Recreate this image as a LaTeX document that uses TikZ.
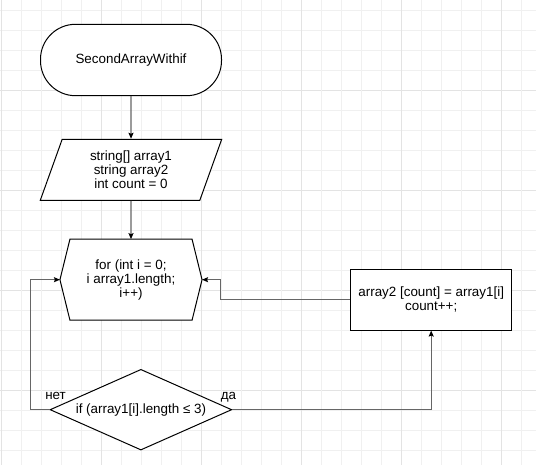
\documentclass[tikz,border=0pt]{standalone}
\usepackage{fontspec}
\setmainfont{Liberation Sans}
\usetikzlibrary{shapes.geometric,arrows.meta}

\tikzset{
  textfont/.style={font=\fontsize{13.4}{14}\selectfont},
  outline/.style={draw=black, line width=1pt, fill=white},
  block/.style={outline, align=center, inner sep=0pt, textfont},
  terminal/.style={block, rectangle, rounded corners=35pt, minimum width=181pt, minimum height=71.4pt},
  inputbox/.style={block, trapezium, trapezium left angle=71, trapezium right angle=109, trapezium stretches=true, minimum width=181.7pt, minimum height=61pt},
  loopbox/.style={align=center, inner sep=0pt, textfont, rectangle, minimum width=141.7pt, minimum height=80.7pt},
  decision/.style={block, diamond, aspect=2.25, minimum width=181.7pt, minimum height=80.7pt},
  process/.style={block, rectangle, minimum width=161pt, minimum height=60.7pt},
  flow/.style={draw=black!60, line width=1.2pt, -{Stealth[length=6pt,width=5pt,inset=1pt,color=black]}},
  edgelabel/.style={textfont, inner sep=0pt, anchor=base},
  gridminor/.style={draw=black!6, line width=1pt},
  gridmajor/.style={draw=black!11, line width=1pt},
}

\begin{document}
\begin{tikzpicture}[x=1pt, y=-1pt]
  \useasboundingbox[fill=white] (0,0) rectangle (536,465);
  % background grid
  \draw[gridminor] (0,10.5) -- (536,10.5);
  \draw[gridminor] (0,30.5) -- (536,30.5);
  \draw[gridminor] (0,50.5) -- (536,50.5);
  \draw[gridminor] (0,70.5) -- (536,70.5);
  \draw[gridmajor] (0,90.5) -- (536,90.5);
  \draw[gridminor] (0,110.5) -- (536,110.5);
  \draw[gridminor] (0,130.5) -- (536,130.5);
  \draw[gridminor] (0,150.5) -- (536,150.5);
  \draw[gridminor] (0,170.5) -- (536,170.5);
  \draw[gridmajor] (0,190.5) -- (536,190.5);
  \draw[gridminor] (0,210.5) -- (536,210.5);
  \draw[gridminor] (0,230.5) -- (536,230.5);
  \draw[gridminor] (0,250.5) -- (536,250.5);
  \draw[gridminor] (0,270.5) -- (536,270.5);
  \draw[gridmajor] (0,290.5) -- (536,290.5);
  \draw[gridminor] (0,310.5) -- (536,310.5);
  \draw[gridminor] (0,330.5) -- (536,330.5);
  \draw[gridminor] (0,350.5) -- (536,350.5);
  \draw[gridminor] (0,370.5) -- (536,370.5);
  \draw[gridmajor] (0,390.5) -- (536,390.5);
  \draw[gridminor] (0,410.5) -- (536,410.5);
  \draw[gridminor] (0,430.5) -- (536,430.5);
  \draw[gridminor] (0,450.5) -- (536,450.5);
  \draw[gridmajor] (1.5,0) -- (1.5,465);
  \draw[gridminor] (21.5,0) -- (21.5,465);
  \draw[gridminor] (41.5,0) -- (41.5,465);
  \draw[gridminor] (61.5,0) -- (61.5,465);
  \draw[gridminor] (81.5,0) -- (81.5,465);
  \draw[gridmajor] (101.5,0) -- (101.5,465);
  \draw[gridminor] (121.5,0) -- (121.5,465);
  \draw[gridminor] (141.5,0) -- (141.5,465);
  \draw[gridminor] (161.5,0) -- (161.5,465);
  \draw[gridminor] (181.5,0) -- (181.5,465);
  \draw[gridmajor] (201.5,0) -- (201.5,465);
  \draw[gridminor] (221.5,0) -- (221.5,465);
  \draw[gridminor] (241.5,0) -- (241.5,465);
  \draw[gridminor] (261.5,0) -- (261.5,465);
  \draw[gridminor] (281.5,0) -- (281.5,465);
  \draw[gridmajor] (301.5,0) -- (301.5,465);
  \draw[gridminor] (321.5,0) -- (321.5,465);
  \draw[gridminor] (341.5,0) -- (341.5,465);
  \draw[gridminor] (361.5,0) -- (361.5,465);
  \draw[gridminor] (381.5,0) -- (381.5,465);
  \draw[gridmajor] (401.5,0) -- (401.5,465);
  \draw[gridminor] (421.5,0) -- (421.5,465);
  \draw[gridminor] (441.5,0) -- (441.5,465);
  \draw[gridminor] (461.5,0) -- (461.5,465);
  \draw[gridminor] (481.5,0) -- (481.5,465);
  \draw[gridmajor] (501.5,0) -- (501.5,465);
  \draw[gridminor] (521.5,0) -- (521.5,465);

  % blocks
  \node[terminal] (start) at (131,60) {SecondArrayWithif};
  \node[inputbox] (vars) at (131,169.8) {string[] array1\\string array2\\int count = 0};
  \node[loopbox] (loop) at (131,279.7) {};
  \draw[outline] ([xshift=10pt]loop.north west) -- ([xshift=-10pt]loop.north east) -- (loop.east)
    -- ([xshift=-10pt]loop.south east) -- ([xshift=10pt]loop.south west) -- (loop.west) -- cycle;
  \node[loopbox] (looptext) at (loop.center) {for (int i = 0;\\i array1.length;\\i++)};
  \node[decision] (cond) at (140.9,409.7) {if (array1[i].length ≤ 3)};
  \node[process] (body) at (431.2,299.7) {array2 [count] = array1[i]\\count++;};

  % connectors
  \draw[flow] (start) -- (vars);
  \draw[flow] (vars) -- (loop);
  \draw[flow] (cond.west) -- ++(-19,0) |- (loop.west);
  \draw[flow] (cond.east) -| (body.south);
  \draw[flow] (body.west) -- ++(-129.7,0) |- (loop.east);
  \node[edgelabel] (no) at ([xshift=6pt,yshift=10.5pt]cond.west) {нет};
  \node[edgelabel] (yes) at ([xshift=-3.7pt,yshift=10.5pt]cond.east) {да};
\end{tikzpicture}
\end{document}
